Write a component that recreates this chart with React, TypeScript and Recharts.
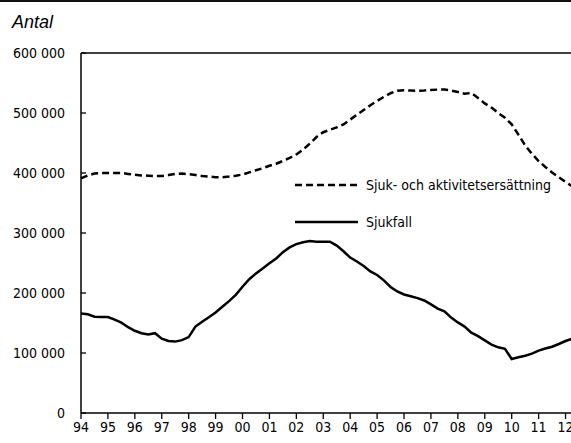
import React from 'react';
import { LineChart, Line, XAxis, YAxis, ReferenceLine, Legend } from 'recharts';

// quarterly readings, first value = 1994 Q1
const startYear = 1994;

const sjukOchAktivitet = [
  391000, 396000, 399000, 400000, 400000, 400000, 400000, 398500,
  397000, 396000, 395500, 395000, 395000, 396500, 398500, 399000,
  398000, 396500, 395000, 394000, 393000, 393000, 394000, 395500,
  397500, 401000, 404500, 408000, 412000, 415500, 420000, 425000,
  431000, 439000, 449000, 460000, 468000, 472000, 476000, 481000,
  489000, 497000, 505000, 513000, 520000, 527000, 533000, 537000,
  538000, 537500, 537000, 537500, 538500, 539000, 539000, 537500,
  535000, 532000, 533500, 525000, 516000, 509000, 500000, 492000,
  481000, 464000, 446000, 432000, 420000, 410000, 401000, 393000,
  385000, 378000,
];

const sjukfall = [
  166000, 164500, 160500, 160000, 160000, 155500, 150500, 143000,
  137000, 133000, 131000, 133000, 124000, 120000, 119000, 121500,
  126500, 144000, 152000, 159500, 167500, 177000, 186500, 197000,
  210500, 223000, 232500, 241000, 249500, 257500, 268000, 276000,
  281500, 284500, 286500, 285500, 285500, 285500, 279000, 269500,
  259000, 252500, 245000, 236000, 230000, 221000, 210000, 202500,
  197500, 194500, 191500, 187500, 181000, 174000, 169500, 159000,
  151000, 144000, 134000, 128000, 121000, 114000, 109500, 107000,
  90000, 93000, 95500, 99000, 104000, 107500, 110500, 115000,
  120000, 124000,
];

const yearTicks = [
  1994, 1995, 1996, 1997, 1998, 1999, 2000, 2001, 2002, 2003,
  2004, 2005, 2006, 2007, 2008, 2009, 2010, 2011, 2012,
];
const valueTicks = [0, 100000, 200000, 300000, 400000, 500000, 600000];

const seriesNames = {
  aktivitet: 'Sjuk- och aktivitetsersättning',
  sjukfall: 'Sjukfall',
};

const data = sjukfall.map((v, i) => ({
  t: startYear + i / 4,
  aktivitet: sjukOchAktivitet[i],
  sjukfall: v,
}));

const FONT = "'DejaVu Sans Condensed', 'Liberation Sans Narrow', 'DejaVu Sans', sans-serif";
const DASH = '7 4';

const fmtValue = (v: number) => (v === 0 ? '0' : `${v / 1000} 000`);
const fmtYear = (v: number) => String(v % 100).padStart(2, '0');

const YTick = (props: any) => {
  const { x, y, payload } = props;
  return (
    <g>
      <line x1={x + 16} x2={x + 21} y1={y} y2={y} stroke="#000" strokeWidth={1.3} />
      <text
        x={x}
        y={y}
        textAnchor="end"
        dominantBaseline="central"
        fontSize={14}
        fontFamily={FONT}
        fontStretch="condensed"
        fill="#000"
      >
        {fmtValue(payload.value)}
      </text>
    </g>
  );
};

const renderLegend = (props: any) => {
  const { payload } = props;
  return (
    <div style={{ fontFamily: FONT, fontStretch: 'condensed', fontSize: 14, color: '#000' }}>
      {payload.map((entry: any, i: number) => (
        <div
          key={entry.value}
          style={{ display: 'flex', alignItems: 'center', height: 20, marginTop: i === 0 ? 0 : 17 }}
        >
          <svg width={63} height={4} style={{ marginRight: 8 }}>
            <line
              x1={0}
              x2={63}
              y1={2}
              y2={2}
              stroke="#000"
              strokeWidth={2.5}
              strokeDasharray={entry.dataKey === 'aktivitet' ? DASH : undefined}
            />
          </svg>
          <span>{entry.value}</span>
        </div>
      ))}
    </div>
  );
};

export default function App() {
  return (
    <div
      style={{
        position: 'fixed',
        left: 0,
        top: 0,
        width: 571,
        height: 443,
        overflow: 'hidden',
        background: '#fff',
      }}
    >
      <div style={{ position: 'absolute', left: 0, top: 0, width: 571, height: 2, background: '#111' }} />
      <div
        style={{
          position: 'absolute',
          left: 12,
          top: 12,
          fontFamily: "'Liberation Sans', Arial, sans-serif",
          fontStyle: 'italic',
          fontSize: 18,
          color: '#000',
        }}
      >
        Antal
      </div>
      <LineChart
        width={589}
        height={443}
        data={data}
        margin={{ top: 53, right: 10, bottom: 0, left: 0 }}
      >
        <XAxis
          dataKey="t"
          type="number"
          domain={[1994, 2012.5]}
          ticks={yearTicks}
          interval={0}
          tickFormatter={fmtYear}
          height={30}
          tickSize={6}
          tickMargin={3}
          axisLine={{ stroke: '#000', strokeWidth: 1.5 }}
          tickLine={{ stroke: '#000', strokeWidth: 1.3 }}
          tick={{ fontSize: 14, fontFamily: FONT, fill: '#000', fontStretch: 'condensed' }}
        />
        <YAxis
          type="number"
          domain={[0, 600000]}
          ticks={valueTicks}
          interval={0}
          width={81}
          tickSize={5}
          tickMargin={11}
          tickLine={false}
          axisLine={{ stroke: '#000', strokeWidth: 1.5 }}
          tick={<YTick />}
        />
        <ReferenceLine y={600000} stroke="#000" strokeWidth={1.3} />
        <Legend
          layout="vertical"
          align="center"
          verticalAlign="middle"
          content={renderLegend}
          wrapperStyle={{ position: 'absolute', left: 295, top: 175, width: 270 }}
        />
        <Line
          dataKey="aktivitet"
          name={seriesNames.aktivitet}
          type="linear"
          stroke="#000"
          strokeWidth={2.5}
          strokeDasharray={DASH}
          dot={false}
          activeDot={false}
          isAnimationActive={false}
        />
        <Line
          dataKey="sjukfall"
          name={seriesNames.sjukfall}
          type="linear"
          stroke="#000"
          strokeWidth={2.5}
          dot={false}
          activeDot={false}
          isAnimationActive={false}
        />
      </LineChart>
    </div>
  );
}
